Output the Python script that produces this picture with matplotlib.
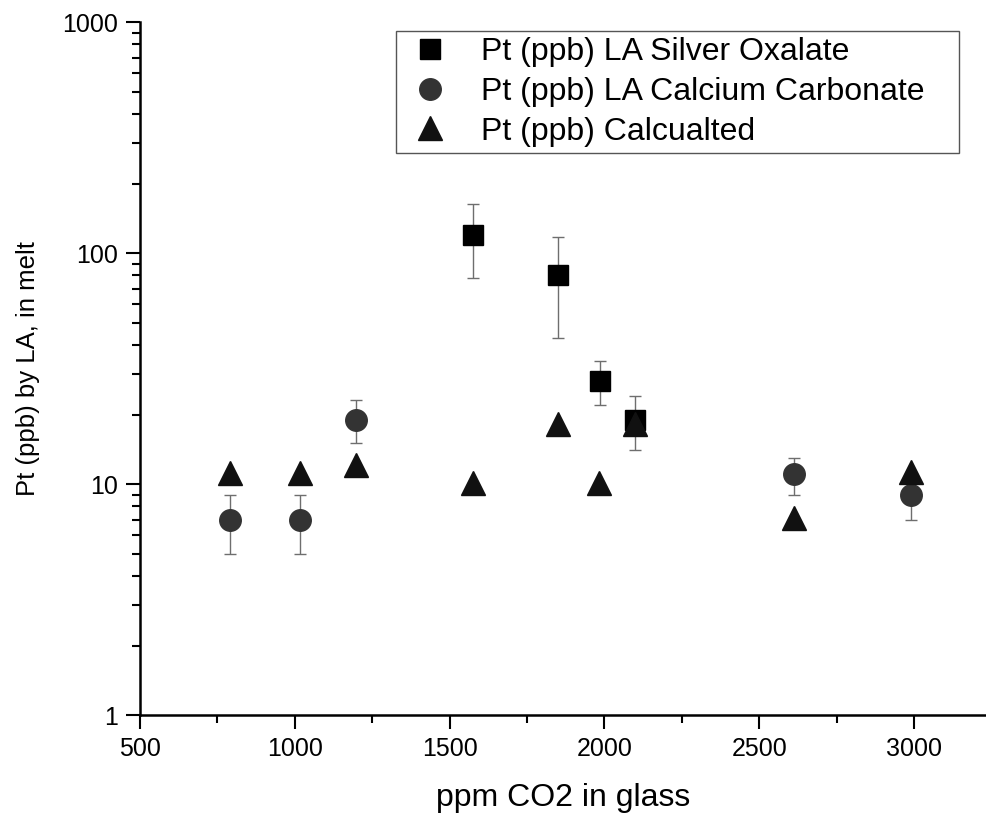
import matplotlib
matplotlib.use("Agg")
import matplotlib.pyplot as plt
from matplotlib.ticker import LogLocator, MultipleLocator, NullFormatter

plt.rcParams["font.family"] = ["Liberation Sans", "DejaVu Sans"]

# ---- data ----
ox_x = [1575, 1850, 1985, 2100]
ox_y = [120, 80, 28, 19]
ox_lo = [78, 43, 22, 14]
ox_hi = [163, 117, 34, 24]

cc_x = [792, 1017, 1198, 2612, 2992]
cc_y = [7, 7, 19, 11, 9]
cc_lo = [5, 5, 15, 9, 7]
cc_hi = [9, 9, 23, 13, 11]

calc_x = [792, 1017, 1198, 1576, 1850, 1984, 2100, 2612, 2992]
calc_y = [11.2, 11.2, 12.1, 10.1, 18.2, 10.1, 18.2, 7.1, 11.3]

ERR_COLOR = "#6e6e6e"

fig = plt.figure(figsize=(9.87, 8.17), dpi=100)
ax = fig.add_axes([0.1418, 0.1248, 0.8582, 0.8482])

ax.errorbar(ox_x, ox_y,
            yerr=[[y - l for y, l in zip(ox_y, ox_lo)], [h - y for y, h in zip(ox_y, ox_hi)]],
            fmt="none", ecolor=ERR_COLOR, elinewidth=1, capsize=4.5, capthick=1, zorder=2)
ax.errorbar(cc_x, cc_y,
            yerr=[[y - l for y, l in zip(cc_y, cc_lo)], [h - y for y, h in zip(cc_y, cc_hi)]],
            fmt="none", ecolor=ERR_COLOR, elinewidth=1, capsize=4.5, capthick=1, zorder=2)

ax.plot(ox_x, ox_y, ls="none", marker="s", ms=14, color="#000000",
        label="Pt (ppb) LA Silver Oxalate", zorder=3)
ax.plot(cc_x, cc_y, ls="none", marker="o", ms=15.5, color="#333333",
        label="Pt (ppb) LA Calcium Carbonate", zorder=3)
ax.plot(calc_x, calc_y, ls="none", marker="^", ms=17.5, color="#111111",
        label="Pt (ppb) Calcualted", zorder=4)

ax.set_yscale("log")
ax.set_ylim(1, 1000)
ax.set_xlim(500, 3236)
ax.set_yticks([1, 10, 100, 1000])
ax.set_yticklabels(["1", "10", "100", "1000"])
ax.yaxis.set_minor_locator(LogLocator(base=10, subs=range(2, 10)))
ax.yaxis.set_minor_formatter(NullFormatter())
ax.xaxis.set_major_locator(MultipleLocator(500))
ax.xaxis.set_minor_locator(MultipleLocator(250))

for s in ["top", "right"]:
    ax.spines[s].set_visible(False)
for s in ["left", "bottom"]:
    ax.spines[s].set_linewidth(1.8)

ax.tick_params(which="major", direction="out", length=10, width=1.5, labelsize=18, pad=6)
ax.tick_params(which="minor", direction="out", length=5.5, width=1.5)

ax.set_xlabel("ppm CO2 in glass", fontsize=23, labelpad=16)
ax.set_ylabel("Pt (ppb) by LA, in melt", fontsize=18.5, labelpad=16)

leg = ax.legend(loc="upper left",
                bbox_to_anchor=(396 / 987, 1 - 153 / 817, 563 / 987, 122 / 817),
                bbox_transform=fig.transFigure, mode="expand", borderaxespad=0,
                fontsize=23, frameon=True,
                fancybox=False, edgecolor="#555555", framealpha=1,
                handletextpad=0.75, borderpad=0.2, labelspacing=0.3,
                handlelength=1.7, numpoints=1)
leg.get_frame().set_linewidth(1)

plt.savefig("out.png", dpi=100, facecolor="white")
